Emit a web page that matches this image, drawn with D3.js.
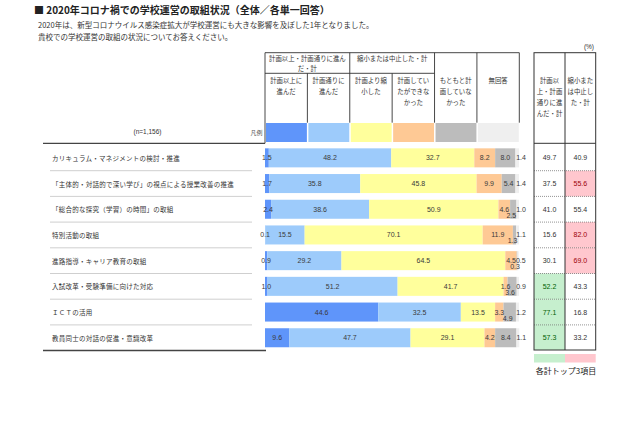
<!DOCTYPE html>
<html><head><meta charset="utf-8">
<script src="https://cdn.jsdelivr.net/npm/d3@7/dist/d3.min.js"></script>
<style>
html,body{margin:0;padding:0;background:#fff;}
svg{display:block;}
</style></head><body>
<svg id="c" width="640" height="426"></svg>
<script>
// ---- data ----
const categories = [
  "カリキュラム・マネジメントの検討・推進",
  "「主体的・対話的で深い学び」の視点による授業改善の推進",
  "「総合的な探究（学習）の時間」の取組",
  "特別活動の取組",
  "進路指導・キャリア教育の取組",
  "入試改革・受験準備に向けた対応",
  "ＩＣＴの活用",
  "教員同士の対話の促進・意識改革"
];
const seriesNames = ["計画以上に進んだ","計画通りに進んだ","計画より縮小した","計画していたができなかった","もともと計画していなかった","無回答"];
const aheadOfPlan   = [1.5, 1.7, 2.4, 0.1, 0.9, 1.0, 44.6, 9.6];
const asPlanned     = [48.2, 35.8, 38.6, 15.5, 29.2, 51.2, 32.5, 47.7];
const reduced       = [32.7, 45.8, 50.9, 70.1, 64.5, 41.7, 13.5, 29.1];
const couldNot      = [8.2, 9.9, 4.6, 11.9, 4.5, 1.6, 3.3, 4.2];
const notPlanned    = [8.0, 5.4, 2.5, 1.3, 0.3, 3.6, 4.9, 8.4];
const noAnswer      = [1.4, 1.4, 1.0, 1.1, 0.5, 0.9, 1.2, 1.1];
const totalProgress = [49.7, 37.5, 41.0, 15.6, 30.1, 52.2, 77.1, 57.3];
const totalReduced  = [40.9, 55.6, 55.4, 82.0, 69.0, 43.3, 16.8, 33.2];
const headerGroups = [["計画以上・計画通りに進ん","だ・計"],["縮小または中止した・計"]];
const headerSubs = [["計画以上に","進んだ"],["計画通りに","進んだ"],["計画より縮","小した"],["計画してい","たができな","かった"],["もともと計","画していな","かった"],["無回答"]];
const rightHeads = [["計画以","上・計画","通りに進","んだ・計"],["縮小また","は中止し","た・計"]];
const titleText = "■ 2020年コロナ禍での学校運営の取組状況（全体／各単一回答）";
const subText = ["2020年は、新型コロナウイルス感染症拡大が学校運営にも大きな影響を及ぼした1年となりました。","貴校での学校運営の取組の状況についてお答えください。"];
const nText = "(n=1,156)";

// ---- styles ----
const colors = ["#5f95fa","#9dcbfb","#ffff9c","#fec995","#bcbcbc","#efefef"];
const JP = "'Noto Sans CJK JP','Noto Sans',sans-serif";
const NUM = "'Liberation Sans',Arial,sans-serif";
const ink = "#333";

const svg = d3.select("#c");
const bgLayer = svg.append("g");
const series = [aheadOfPlan, asPlanned, reduced, couldNot, notPlanned, noAnswer];
const rows = categories.map((c,i)=>{ const o={cat:c}; series.forEach((s,k)=>o[k]=s[i]); return o; });
const keys = d3.range(series.length);
const stacked = d3.stack().keys(keys)(rows);

const x = d3.scaleLinear().domain([0,100]).range([265,519]);
const y = d3.scaleBand().domain(categories).range([145,350.6]).paddingInner(0.26).paddingOuter(0.13);

// title
svg.append("text").attr("x",34).attr("y",14).attr("font-family",JP).attr("font-size",10).attr("font-weight","bold").attr("fill","#222").text(titleText);
subText.forEach((t,i)=>svg.append("text").attr("x",38).attr("y",28+i*11.5).attr("font-family",JP).attr("font-size",7.5).attr("fill","#333").text(t));
svg.append("text").attr("x",594).attr("y",49).attr("text-anchor","end").attr("font-family",NUM).attr("font-size",6.5).attr("fill",ink).text("(%)");

// header table
const hx0=265, hx1=519.3, hy0=52.7, hyMid=73.3, hy1=122.7;
const cw=(hx1-hx0)/6;
const g = svg.append("g").attr("stroke","#333").attr("stroke-width",0.9);
g.append("line").attr("x1",hx0).attr("x2",hx1).attr("y1",hy0).attr("y2",hy0);
g.append("line").attr("x1",hx0).attr("x2",hx0+4*cw).attr("y1",hyMid).attr("y2",hyMid);
for(let i=0;i<=6;i++){
  const xx=hx0+i*cw;
  const top=(i===1||i===3)?hyMid:hy0;
  const bot=(i===0)?143.3:hy1;
  g.append("line").attr("x1",xx).attr("x2",xx).attr("y1",top).attr("y2",bot);
}
headerGroups.forEach((lines,gi)=>{
  const cx=hx0+(gi*2+1)*cw;
  lines.forEach((t,li)=>svg.append("text").attr("x",cx).attr("y",58.5+li*10).attr("text-anchor","middle").attr("dominant-baseline","central").attr("font-family",JP).attr("font-size",6.4).attr("fill",ink).text(t));
});
headerSubs.forEach((lines,ci)=>{
  const cx=hx0+(ci+0.5)*cw;
  lines.forEach((t,li)=>svg.append("text").attr("x",cx).attr("y",80+li*11.2).attr("text-anchor","middle").attr("dominant-baseline","central").attr("font-family",JP).attr("font-size",6.4).attr("fill",ink).text(t));
});
// legend swatches
colors.forEach((c,i)=>svg.append("rect").attr("x",hx0+i*cw+1).attr("y",123).attr("width",cw-1.5).attr("height",19).attr("fill",c));
svg.append("text").attr("x",262.5).attr("y",132).attr("text-anchor","end").attr("dominant-baseline","central").attr("font-family",JP).attr("font-size",6).attr("fill","#555").text("凡例");
svg.append("text").attr("x",147.5).attr("y",131).attr("text-anchor","middle").attr("dominant-baseline","central").attr("font-family",NUM).attr("font-size",6.5).attr("fill",ink).text(nText);

// left frame lines
svg.append("line").attr("x1",43).attr("x2",265).attr("y1",143.3).attr("y2",143.3).attr("stroke","#444").attr("stroke-width",1.3);
svg.append("line").attr("x1",43).attr("x2",266).attr("y1",350.5).attr("y2",350.5).attr("stroke","#444").attr("stroke-width",1.3);
// row dotted separators
categories.slice(0,-1).forEach((c,i)=>{
  const yy=y(c)+y.step()-(y.step()-y.bandwidth())/2;
  svg.append("line").attr("x1",50.5).attr("x2",252).attr("y1",yy).attr("y2",yy).attr("stroke","#777").attr("stroke-width",0.7).attr("stroke-dasharray","1,1");
  svg.append("line").attr("x1",534).attr("x2",596).attr("y1",yy).attr("y2",yy).attr("stroke","#666").attr("stroke-width",0.7).attr("stroke-dasharray","1,1");
});
// row labels
svg.append("g").selectAll("text").data(categories).join("text")
  .attr("x",52).attr("y",d=>y(d)+y.bandwidth()/2).attr("dominant-baseline","central")
  .attr("font-family",JP).attr("font-size",6.5).attr("letter-spacing",0.25).attr("fill",ink).text(d=>d);

// bars
const layers = svg.append("g").selectAll("g").data(stacked).join("g").attr("fill",(d,i)=>colors[i]);
layers.selectAll("rect").data(d=>d).join("rect")
  .attr("x",d=>x(d[0])).attr("width",d=>Math.max(0,x(d[1])-x(d[0])))
  .attr("y",d=>y(d.data.cat)).attr("height",y.bandwidth());
// value labels
const lab = svg.append("g").attr("font-family",NUM).attr("font-size",7).attr("fill","#3a3a3a").attr("text-anchor","middle");
stacked.forEach((layer,k)=>{
  layer.forEach((d,i)=>{
    const v=series[k][i];
    let xx=(x(d[0])+x(d[1]))/2, dy=0;
    if(k===5) xx=x(d[1])+2;
    if(k===4 && v<5){ dy=6; xx-=2; }
    lab.append("text").attr("x",xx).attr("y",y(d.data.cat)+y.bandwidth()/2+dy).attr("dominant-baseline","central").text(v.toFixed(1));
  });
});

// right table
const rx0=534, rx1=565, rx2=595.7, ry0=52.7, ry1=350;
const top3 = arr=>arr.map((v,i)=>[v,i]).sort((a,b)=>b[0]-a[0]).slice(0,3).map(d=>d[1]);
const hiA=top3(totalProgress), hiB=top3(totalReduced);
const yTop=143.3;
[[totalProgress,rx0,rx1,hiA,"#c6efce","#006100"],[totalReduced,rx1,rx2,hiB,"#ffc7ce","#9c0006"]].forEach(([arr,a,b,hi,bg,fg])=>{
  arr.forEach((v,i)=>{
    const c=categories[i];
    const cy0 = i===0?yTop:y(c)-(y.step()-y.bandwidth())/2;
    const cy1 = i===categories.length-1?ry1:y(c)+y.step()-(y.step()-y.bandwidth())/2;
    if(hi.includes(i)) bgLayer.append("rect").attr("x",a).attr("y",cy0).attr("width",b-a).attr("height",cy1-cy0).attr("fill",bg);
    svg.append("text").attr("x",(a+b)/2).attr("y",y(c)+y.bandwidth()/2).attr("text-anchor","middle").attr("dominant-baseline","central")
      .attr("font-family",NUM).attr("font-size",7).attr("fill",hi.includes(i)?fg:ink).text(v.toFixed(1));
  });
});
const rg = svg.append("g").attr("stroke","#333").attr("fill","none").attr("stroke-width",1);
rg.append("rect").attr("x",rx0).attr("y",ry0).attr("width",rx2-rx0).attr("height",ry1-ry0);
rg.append("line").attr("x1",rx1).attr("x2",rx1).attr("y1",ry0).attr("y2",ry1);
rg.append("line").attr("x1",rx0).attr("x2",rx2).attr("y1",yTop).attr("y2",yTop);
rightHeads.forEach((lines,ci)=>{
  const cx=ci===0?(rx0+rx1)/2:(rx1+rx2)/2;
  lines.forEach((t,li)=>svg.append("text").attr("x",cx).attr("y",80+li*11.3).attr("text-anchor","middle").attr("dominant-baseline","central").attr("font-family",JP).attr("font-size",6.4).attr("fill",ink).text(t));
});
// highlight legend
svg.append("rect").attr("x",rx0).attr("y",354).attr("width",rx1-rx0).attr("height",8.5).attr("fill","#c6efce");
svg.append("rect").attr("x",rx1).attr("y",354).attr("width",rx2-rx1).attr("height",8.5).attr("fill","#ffc7ce");
svg.append("text").attr("x",566).attr("y",370).attr("text-anchor","middle").attr("dominant-baseline","central").attr("font-family",JP).attr("font-size",8).attr("fill","#222").text("各計トップ3項目");
</script>
</body></html>
